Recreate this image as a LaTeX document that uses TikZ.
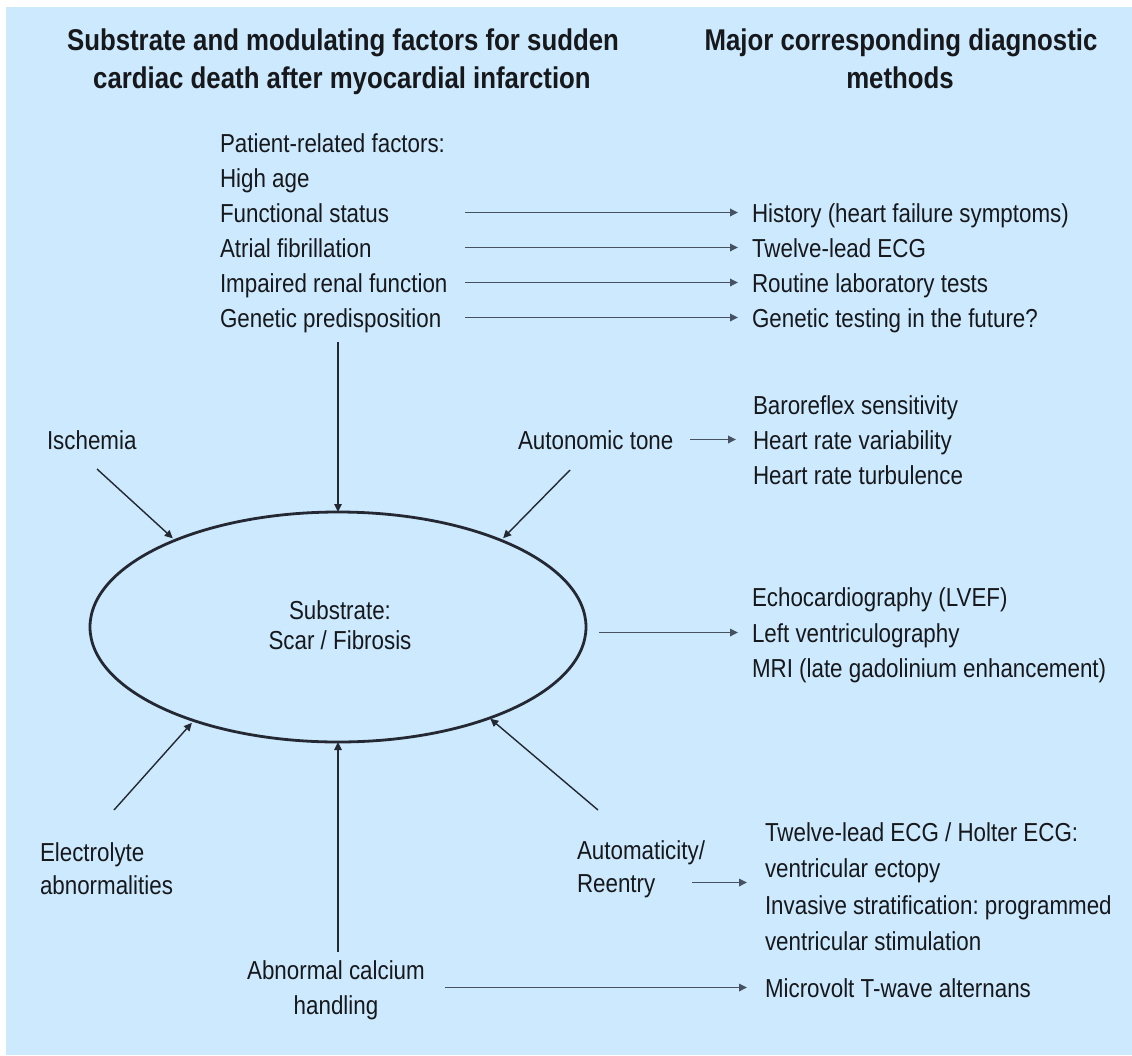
\documentclass[tikz,border=0pt]{standalone}
\usepackage{fontspec}
\setmainfont[FakeStretch=0.86]{Liberation Sans}
\usetikzlibrary{arrows.meta,shapes.geometric}
\definecolor{bg}{RGB}{205,233,253}
\definecolor{ln}{RGB}{35,40,50}
\definecolor{hl}{RGB}{70,82,98}
\definecolor{tx}{RGB}{22,24,28}
\begin{document}
\frenchspacing
\begin{tikzpicture}[x=1pt,y=-1pt,
  every node/.style={inner sep=0pt,outer sep=0pt,text=tx},
  body/.style={font=\fontsize{26}{35}\selectfont\frenchspacing,anchor=base west,text height=21pt,text depth=2pt},
  ctr/.style={body,anchor=base},
  head/.style={font=\bfseries\fontsize{30}{38}\selectfont,anchor=base},
  arr/.style={draw=ln,line width=1.4pt,-{Triangle[length=8pt,width=7.5pt]}},
  harr/.style={draw=hl,line width=1.7pt,-{Triangle[length=8pt,width=7.5pt]},shorten >=14pt},
]
\useasboundingbox (0,0) rectangle (1132,1055);
\fill[white] (0,0) rectangle (1132,1055);
\fill[bg] (6,7) rectangle (1132,1055);

% headings
\node[head] (h1a) at (343,50) {Substrate and modulating factors for sudden};
\node[head] (h1b) at (342,88) {cardiac death after myocardial infarction};
\node[head] (h2a) at (901,50) {Major corresponding diagnostic};
\node[head] (h2b) at (900,88) {methods};

% patient-related factors
\node[body] (pf0) at (220,152) {Patient-related factors:};
\node[body] (pf1) at (220,187) {High age};
\node[body] (pf2) at (220,222) {Functional status};
\node[body] (pf3) at (220,257) {Atrial fibrillation};
\node[body] (pf4) at (220,292) {Impaired renal function};
\node[body] (pf5) at (220,327) {Genetic predisposition};
\coordinate (fx) at (465,0);

\node[body] (dg2) at (752,222) {History (heart failure symptoms)};
\node[body] (dg3) at (752,257) {Twelve-lead ECG};
\node[body] (dg4) at (752,292) {Routine laboratory tests};
\node[body] (dg5) at (752,327) {Genetic testing in the future?};

\draw[harr] (pf2 -| fx) -- (dg2.west);
\draw[harr] (pf3 -| fx) -- (dg3.west);
\draw[harr] (pf4 -| fx) -- (dg4.west);
\draw[harr] (pf5 -| fx) -- (dg5.west);

% substrate ellipse
\node[ellipse,draw=ln,line width=2.8pt,minimum width=496pt,minimum height=230pt] (ell) at (338,627) {};
\node[ctr] (sub1) at (340,619) {Substrate:};
\node[ctr] (sub2) at (340,649) {Scar / Fibrosis};

\coordinate (topS) at (338,342);
\draw[arr] (topS) -- (ell.north);

% ischemia
\node[body] (isc) at (47,449) {Ischemia};
\coordinate (iscS) at (97,469);
\draw[arr,shorten >=3pt] (iscS) -- (ell.152.8);

% autonomic tone
\node[body] (aut) at (518,449) {Autonomic tone};
\node[body] (an1) at (753,414) {Baroreflex sensitivity};
\node[body] (an2) at (753,449) {Heart rate variability};
\node[body] (an3) at (753,484) {Heart rate turbulence};
\draw[harr,shorten <=17pt,shorten >=17pt] (aut.east) -- (an2.west);
\coordinate (autS) at (570,470);
\draw[arr,shorten >=3pt] (autS) -- (ell.28.6);

% substrate diagnostics
\node[body] (ec1) at (752,606) {Echocardiography (LVEF)};
\node[body] (ec2) at (752,642) {Left ventriculography};
\node[body] (ec3) at (752,677) {MRI (late gadolinium enhancement)};
\draw[harr,shorten <=13pt] (ec2.west -| ell.east) -- (ec2.west);

% electrolyte
\node[body] (el1) at (40,861) {Electrolyte};
\node[body] (el2) at (40,894) {abnormalities};
\coordinate (elS) at (114,810);
\draw[arr,shorten >=3pt] (elS) -- (ell.213.4);

% automaticity / reentry
\node[body] (am1) at (577,859) {Automaticity/};
\node[body] (am2) at (577,892) {Reentry};
\coordinate (amS) at (598,810);
\draw[arr,shorten >=1pt] (amS) -- (ell.329.5);
\node[body] (ecg1) at (765,841) {Twelve-lead ECG / Holter ECG:};
\node[body] (ecg2) at (765,877) {ventricular ectopy};
\node[body] (ecg3) at (765,914) {Invasive stratification: programmed};
\node[body] (ecg4) at (765,950) {ventricular stimulation};
\draw[harr,shorten <=37pt,shorten >=18pt] (am2.east) -- (am2.east -| ecg1.west);

% calcium
\node[ctr] (ca1) at (336,979) {Abnormal calcium};
\node[ctr] (ca2) at (336,1014) {handling};
\node[body] (mt) at (765,997) {Microvolt T-wave alternans};
\draw[arr,shorten <=6pt] (ca1.north -| ell.south) -- (ell.south);
\draw[harr,shorten <=20pt,shorten >=18pt] (mt.west -| ca1.east) -- (mt.west);
\end{tikzpicture}
\end{document}
